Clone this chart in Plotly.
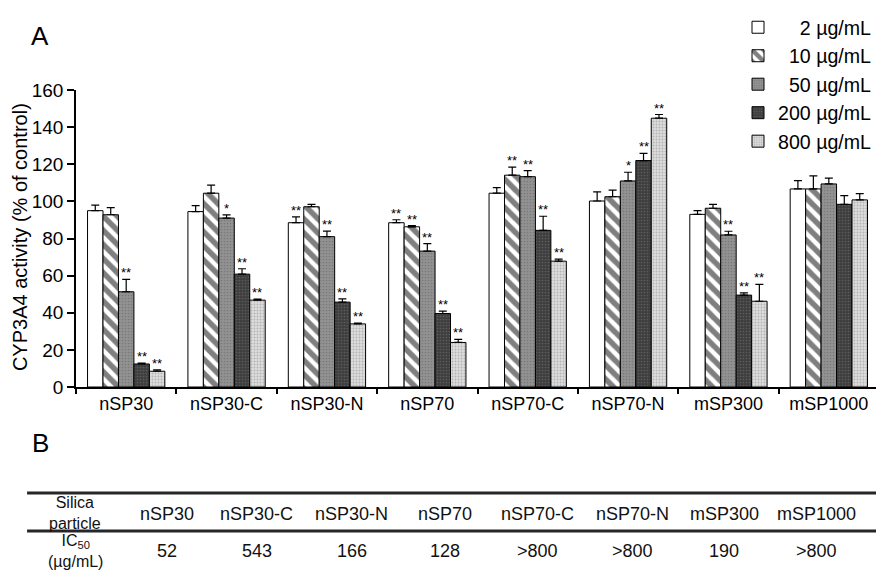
import plotly.graph_objects as go

# ---- data -------------------------------------------------------------
categories = ["nSP30", "nSP30-C", "nSP30-N", "nSP70", "nSP70-C", "nSP70-N", "mSP300", "mSP1000"]
conc_labels = ["2 µg/mL", "10 µg/mL", "50 µg/mL", "200 µg/mL", "800 µg/mL"]

act_2 = [95.0, 94.5, 88.5, 88.5, 104.4, 100.2, 93.0, 106.7]
err_2 = [3.0, 3.2, 3.1, 1.6, 3.0, 4.9, 2.0, 4.5]
sig_2 = ["", "", "**", "**", "", "", "", ""]

act_10 = [92.8, 104.4, 97.1, 86.3, 114.1, 102.5, 96.3, 106.7]
err_10 = [3.8, 4.4, 1.3, 0.6, 4.3, 3.6, 2.1, 7.0]
sig_10 = ["", "", "", "**", "**", "", "", ""]

act_50 = [51.3, 91.0, 81.0, 73.2, 113.3, 111.0, 81.9, 109.4]
err_50 = [6.7, 1.7, 3.0, 4.0, 3.3, 4.7, 2.0, 3.1]
sig_50 = ["**", "*", "**", "**", "**", "*", "**", ""]

act_200 = [12.4, 60.8, 45.7, 39.6, 84.4, 122.0, 49.5, 98.4]
err_200 = [0.5, 2.9, 1.8, 1.3, 7.6, 3.9, 1.2, 4.7]
sig_200 = ["**", "**", "**", "**", "**", "**", "**", ""]

act_800 = [8.5, 46.8, 34.0, 24.0, 67.8, 144.8, 46.2, 100.8]
err_800 = [0.8, 0.5, 0.4, 1.7, 1.1, 2.0, 9.1, 3.4]
sig_800 = ["**", "**", "**", "**", "**", "**", "**", ""]

y_ticks = [0, 20, 40, 60, 80, 100, 120, 140, 160]

table_header = "Silica particle"
ic50_values = ["52", "543", "166", "128", ">800", ">800", "190", ">800"]

# ---- styling ----------------------------------------------------------
FONT = "Liberation Sans, Arial, sans-serif"
W, H = 877, 583
ML, MR, MT, MB = 76, 0, 90, 196
PW, PH = W - ML - MR, H - MT - MB
BARGAP = 0.23


def px_x(px):
    return (px - ML) / PW


def px_y(py):
    return (H - MB - py) / PH


def paper_text(px, py, text, font, **kw):
    return dict(x=px_x(px), y=px_y(py), xref="paper", yref="paper", text=text, showarrow=False,
                xanchor="center", yanchor="middle", font=font, **kw)


patterns = [
    dict(color="white", pattern=None),
    dict(color="white", pattern=dict(shape="\\", fgcolor="black", bgcolor="white", size=10, solidity=0.55)),
    dict(color="#8c8c8c", pattern=dict(shape=".", fgcolor="#5e5e5e", bgcolor="#929292", size=3, solidity=0.25)),
    dict(color="#3c3c3c", pattern=dict(shape=".", fgcolor="#7a7a7a", bgcolor="#3e3e3e", size=3, solidity=0.25)),
    dict(color="#d6d6d6", pattern=dict(shape=".", fgcolor="#8a8a8a", bgcolor="#dcdcdc", size=3, solidity=0.3)),
]

series = [
    (act_2, err_2, sig_2),
    (act_10, err_10, sig_10),
    (act_50, err_50, sig_50),
    (act_200, err_200, sig_200),
    (act_800, err_800, sig_800),
]

# legend labels padded with figure spaces so the numbers line up on the right
pad = max(len(l.split(" ")[0]) for l in conc_labels)
legend_names = ["\u2007" * (pad - len(l.split(" ")[0])) + l for l in conc_labels]

fig = go.Figure()
for k, ((vals, errs, _), sty) in enumerate(zip(series, patterns)):
    marker = dict(color=sty["color"], line=dict(color="black", width=1))
    if sty["pattern"] is not None:
        marker["pattern"] = sty["pattern"]
    fig.add_trace(go.Bar(
        x=categories, y=vals, name=legend_names[k], marker=marker,
        error_y=dict(type="data", array=errs, arrayminus=[0] * len(errs), symmetric=False,
                     color="black", thickness=1.2, width=4),
    ))

# significance marks above each error bar
bar_w = (1 - BARGAP) / len(series)
annotations = []
for k, (vals, errs, sigs) in enumerate(series):
    for i, (v, e, s) in enumerate(zip(vals, errs, sigs)):
        if s:
            annotations.append(dict(
                x=i + (k - (len(series) - 1) / 2) * bar_w, y=v + e, xref="x", yref="y",
                text=s, showarrow=False, xanchor="center", yanchor="bottom", yshift=-3,
                font=dict(family=FONT, size=13, color="black"),
            ))

# panel letters and y-axis title
letter_font = dict(family=FONT, size=26, color="black")
annotations.append(paper_text(40, 36, "A", letter_font))
annotations.append(paper_text(40, 443, "B", letter_font))
annotations.append(paper_text(20, 237, "CYP3A4 activity (% of control)",
                              dict(family=FONT, size=20, color="black"), textangle=-90))

# table of IC50 values
col_x = [167, 257, 352, 445, 538, 633, 725, 817]
tfont = dict(family=FONT, size=18, color="#111111")
hfont = dict(family=FONT, size=16, color="#111111")
annotations.append(paper_text(75, 513, "<br>".join(table_header.split(" ")), hfont))
annotations.append(paper_text(75, 551, "IC<sub>50</sub><br>(µg/mL)", hfont))
for cx, name, val in zip(col_x, categories, ic50_values):
    annotations.append(paper_text(cx, 514, name, tfont))
    annotations.append(paper_text(cx, 551, val, tfont))

shapes = []
for ly in (493, 531):
    shapes.append(dict(type="line", xref="paper", yref="paper", x0=px_x(27), x1=1.0,
                       y0=px_y(ly), y1=px_y(ly), line=dict(color="#262626", width=3)))

fig.update_layout(
    width=W, height=H,
    margin=dict(l=ML, r=MR, t=MT, b=MB),
    paper_bgcolor="white", plot_bgcolor="white",
    barmode="group", bargap=BARGAP, bargroupgap=0,
    font=dict(family=FONT, size=18, color="black"),
    showlegend=True,
    legend=dict(x=px_x(739), y=px_y(8), xanchor="left", yanchor="top",
                font=dict(family=FONT, size=19.6, color="black"),
                bgcolor="rgba(0,0,0,0)", itemclick=False),
    annotations=annotations,
    shapes=shapes,
    xaxis=dict(type="category", range=[-0.5, len(categories) - 0.53], showline=True, linecolor="black",
               linewidth=1.5, ticks="outside", tickson="boundaries", ticklen=5, tickwidth=1.5,
               tickcolor="black", showgrid=False, tickfont=dict(family=FONT, size=18), fixedrange=True),
    yaxis=dict(range=[0, 160], tickvals=y_ticks, showline=True, linecolor="black", linewidth=1.5,
               ticks="outside", ticklen=7, tickwidth=1.5, tickcolor="black", showgrid=False,
               zeroline=False, tickfont=dict(family=FONT, size=19), fixedrange=True),
)

fig.write_html("out.html")
